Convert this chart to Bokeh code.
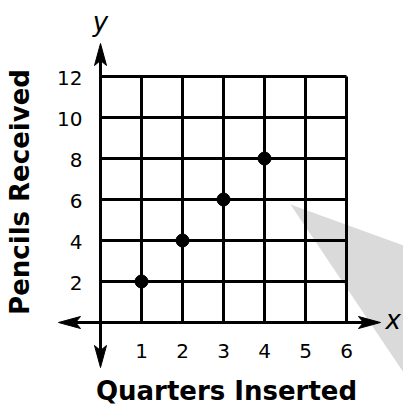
import math
from bokeh.plotting import figure
from bokeh.models import Range1d
from bokeh.core.properties import value
from bokeh.embed import file_html
from bokeh.resources import INLINE

# ---- data ----
quarters = [1, 2, 3, 4]
pencils = [2, 4, 6, 8]
x_ticks = [1, 2, 3, 4, 5, 6]
y_ticks = [2, 4, 6, 8, 10, 12]
x_tick_labels = ["1", "2", "3", "4", "5", "6"]
y_tick_labels = ["2", "4", "6", "8", "10", "12"]
x_grid = [0, 1, 2, 3, 4, 5, 6]
y_grid = [0, 2, 4, 6, 8, 10, 12]
x_title = "Quarters Inserted"
y_title = "Pencils Received"

# ---- layout (picture pixels -> data) ----
W, H = 403, 405
OX, OY = 100.0, 322.0       # px of origin
SX, SY = 41.0, 20.5         # px per data unit


def X(px):
    return (px - OX) / SX


def Y(py):
    return (OY - py) / SY


p = figure(width=W, height=H, output_backend="svg", toolbar_location=None,
           x_range=Range1d(X(0), X(W)), y_range=Range1d(Y(H), Y(0)),
           x_axis_location=None, y_axis_location=None, min_border=0)
p.outline_line_color = None
p.grid.visible = False
p.background_fill_color = "white"
p.border_fill_color = "white"

FONT = value("DejaVu Sans")

# gray decoration (pointer shape)
p.patch(x=[X(290), X(403), X(403)], y=[Y(204), Y(245), Y(372)],
        fill_color="#dadada", line_color=None)

# grid
xmax, ymax = max(x_grid), max(y_grid)
p.segment(x0=x_grid, y0=[0] * len(x_grid), x1=x_grid, y1=[ymax] * len(x_grid),
          line_color="black", line_width=3)
p.segment(x0=[0] * len(y_grid), y0=y_grid, x1=[xmax] * len(y_grid), y1=y_grid,
          line_color="black", line_width=3)

# axes with arrows (tips in px)
tips = [(58, 322), (380, 322), (100, 43), (100, 367)]
HL, HW, NOTCH = 22.0, 12.0, 17.0
hx, hy, lx0, ly0, lx1, ly1 = [], [], [], [], [], []
for tx, ty in tips:
    dx, dy = tx - OX, ty - OY
    n = math.hypot(dx, dy)
    ux, uy = dx / n, dy / n
    vx, vy = -uy, ux
    bx, by = tx - ux * HL, ty - uy * HL
    nx, ny = tx - ux * NOTCH, ty - uy * NOTCH
    pts = [(tx, ty), (bx + vx * HW / 2, by + vy * HW / 2), (nx, ny),
           (bx - vx * HW / 2, by - vy * HW / 2)]
    hx.append([X(a) for a, b in pts])
    hy.append([Y(b) for a, b in pts])
    lx0.append(0)
    ly0.append(0)
    lx1.append(X(nx))
    ly1.append(Y(ny))
p.segment(x0=lx0, y0=ly0, x1=lx1, y1=ly1, line_color="black", line_width=3)
p.patches(xs=hx, ys=hy, fill_color="black", line_color="black", line_width=1)

# data points
p.scatter(x=quarters, y=pencils, size=13, color="black")

# tick labels
p.text(x=x_ticks, y=[0] * len(x_ticks), text=x_tick_labels, text_font=FONT,
       text_font_size="20px", text_align="center", text_baseline="middle",
       y_offset=28, text_color="black")
p.text(x=[0] * len(y_ticks), y=y_ticks, text=y_tick_labels, text_font=FONT,
       text_font_size="20px", text_align="right", text_baseline="middle",
       x_offset=-18, y_offset=1, text_color="black")

# axis titles
p.text(x=[3], y=[0], text=[x_title], text_font=FONT, text_font_size="26px",
       text_font_style="bold", text_align="center", text_baseline="middle",
       y_offset=68, x_offset=3, text_color="black")
p.text(x=[0], y=[Y(191.5)], text=[y_title], text_font=FONT, text_font_size="26px",
       text_font_style="bold", text_align="center", text_baseline="middle",
       angle=math.pi / 2, x_offset=-81, text_color="black")

# axis letters
p.text(x=[0], y=[Y(21)], text=["y"], text_font=FONT, text_font_size="26px",
       text_font_style="italic", text_align="center", text_baseline="middle",
       text_color="black")
p.text(x=[X(385)], y=[0], text=["x"], text_font=FONT, text_font_size="26px",
       text_font_style="italic", text_align="left", text_baseline="middle",
       y_offset=-3, text_color="black")

open("out.html", "w").write(file_html(p, INLINE))
